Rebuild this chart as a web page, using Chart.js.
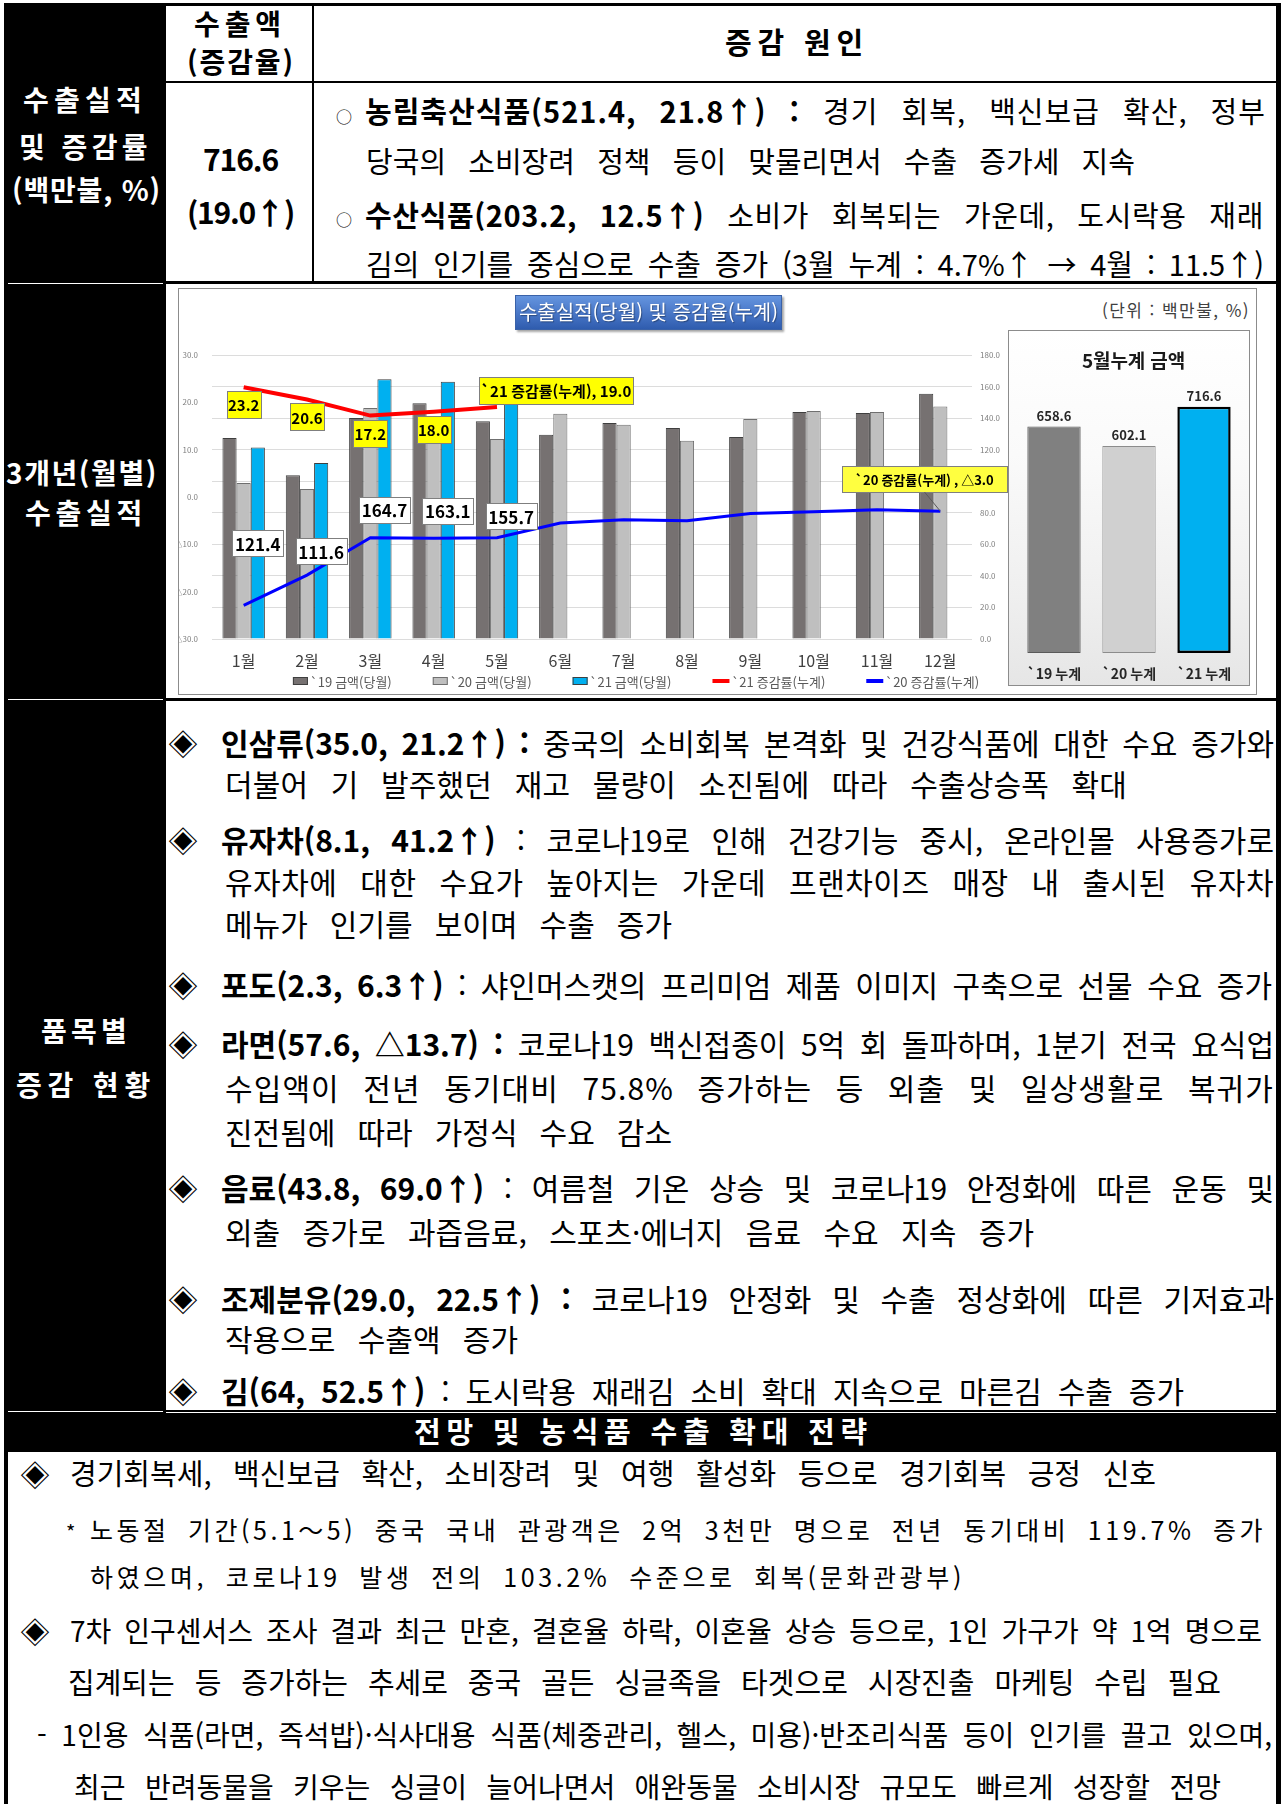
<!DOCTYPE html>
<html lang="ko">
<head>
<meta charset="utf-8">
<title>수출실적 및 증감률</title>
<script src="https://cdn.jsdelivr.net/npm/chart.js@4.4.1/dist/chart.umd.min.js"></script>
<style>
  html, body { margin: 0; padding: 0; background: #fff; }
  #page { position: relative; width: 1285px; height: 1804px; overflow: hidden;
    font-family: 'Noto Sans CJK KR', 'Noto Sans', sans-serif; color: #000; }
  .blk { position: absolute; background: #000; }
  .wl { position: absolute; background: #fff; }
  .t { position: absolute; white-space: nowrap; line-height: 1; }
  .w { color: #fff; font-weight: 700; }
  .bd { font-weight: 700; }
  b { font-weight: 700; }
  #chartBox { position: absolute; left: 178px; top: 288px; width: 1079px; height: 407px;
    border: 1px solid #8c8c8c; box-sizing: border-box; background: #fff; }
  #cumBox { position: absolute; left: 1008px; top: 330px; width: 242px; height: 356px;
    border: 1px solid #8c8c8c; box-sizing: border-box;
    background: linear-gradient(180deg, #fff 0%, #fafafa 35%, #efefef 75%, #e6e6e6 100%); }
  #chartTitle { position: absolute; left: 515px; top: 295px; width: 267px; height: 35px;
    background: linear-gradient(180deg, #6595df 0%, #4a78c8 50%, #2f5cae 100%);
    border: 1px solid #3a62a8; box-sizing: border-box; box-shadow: 2px 2px 2px rgba(0,0,0,0.35);
    color: #fff; font-size: 20px; line-height: 32px; text-align: center; white-space: nowrap;
    overflow: hidden; text-shadow: 1px 1px 1px rgba(0,0,0,0.35); }
  canvas { position: absolute; }
</style>
</head>
<body>
<div id="page">

  <!-- table frame -->
  <div class="blk" style="left:4px;top:3px;width:1277px;height:3px"></div>
  <div class="blk" style="left:4px;top:3px;width:162px;height:1410px"></div>
  <div class="blk" style="left:1276px;top:3px;width:5px;height:1801px"></div>
  <div class="blk" style="left:4px;top:1413px;width:4px;height:391px"></div>
  <div class="blk" style="left:312px;top:6px;width:2px;height:276px"></div>
  <div class="blk" style="left:166px;top:81px;width:1110px;height:2px"></div>
  <div class="blk" style="left:166px;top:281px;width:1110px;height:3px"></div>
  <div class="blk" style="left:166px;top:698px;width:1110px;height:3px"></div>
  <div class="blk" style="left:166px;top:1410px;width:1110px;height:2px"></div>
  <div class="blk" style="left:4px;top:1413px;width:1277px;height:39px"></div>
  <div class="wl" style="left:8px;top:283px;width:155px;height:1px"></div>
  <div class="wl" style="left:8px;top:699px;width:155px;height:1px"></div>
  <div class="wl" style="left:8px;top:1411px;width:155px;height:1px"></div>

  <!-- section 1 -->
  <div class="t w" data-l="23" data-r="147" data-y="101" data-fs="28">수출실적</div>
  <div class="t w" data-l="19" data-r="152" data-y="147.5" data-fs="28">및 증감률</div>
  <div class="t w" data-l="12" data-r="161" data-y="190.5" data-fs="28">(백만불, %)</div>

  <div class="t bd" data-l="194" data-r="286" data-y="25" data-fs="28">수출액</div>
  <div class="t bd" data-l="187" data-r="295" data-y="63" data-fs="28">(증감율)</div>
  <div class="t bd" data-l="203" data-r="278" data-y="160" data-fs="30">716.6</div>
  <div class="t bd" data-l="187" data-r="294" data-y="213" data-fs="30">(19.0↑)</div>
  <div class="t bd" data-l="725" data-r="869" data-y="44" data-fs="29">증감 원인</div>

  <div class="t" data-l="336" data-y="117.5" data-fs="16">○</div>
  <div class="t" data-l="365" data-r="1266" data-y="113" data-fs="29" data-ws="14"><b>농림축산식품(521.4, 21.8↑) :</b> 경기 회복, 백신보급 확산, 정부</div>
  <div class="t" data-l="366" data-r="1135" data-y="162.5" data-fs="29" data-ws="14">당국의 소비장려 정책 등이 맞물리면서 수출 증가세 지속</div>
  <div class="t" data-l="336" data-y="220" data-fs="16">○</div>
  <div class="t" data-l="365" data-r="1264" data-y="216.5" data-fs="29" data-ws="14"><b>수산식품(203.2, 12.5↑)</b> 소비가 회복되는 가운데, 도시락용 재래</div>
  <div class="t" data-l="366" data-r="1264" data-y="265.5" data-fs="29" data-ws="14">김의 인기를 중심으로 수출 증가 (3월 누계 : 4.7%↑ → 4월 : 11.5↑)</div>

  <!-- section 2 -->
  <div class="t w" data-l="6" data-r="158" data-y="474" data-fs="28">3개년(월별)</div>
  <div class="t w" data-l="25" data-r="147" data-y="514" data-fs="28">수출실적</div>

  <div id="chartBox"></div>
  <div id="cumBox"></div>
  <canvas id="mainChart" width="829" height="404" style="left:179px;top:290px"></canvas>
  <canvas id="cumChart" width="240" height="354" style="left:1009px;top:331px"></canvas>
  <div id="chartTitle">수출실적(당월) 및 증감율(누계)</div>
  <div class="t" style="color:#404040" data-l="1102" data-r="1250" data-y="310.5" data-fs="17">(단위 : 백만불, %)</div>
  <div class="t bd" style="color:#1a1a1a" data-l="1082" data-r="1185" data-y="360.5" data-fs="19">5월누계 금액</div>

  <!-- section 3 -->
  <div class="t w" data-l="41" data-r="131" data-y="1032" data-fs="28">품목별</div>
  <div class="t w" data-l="16" data-r="156" data-y="1086" data-fs="28">증감 현황</div>

  <div class="t" data-l="168" data-y="744" data-fs="30">◈</div>
  <div class="t" data-l="221" data-r="1274" data-y="744" data-fs="30" data-ws="14"><b>인삼류(35.0, 21.2↑) :</b> 중국의 소비회복 본격화 및 건강식품에 대한 수요 증가와</div>
  <div class="t" data-l="225" data-r="1127" data-y="785" data-fs="30" data-ws="14">더불어 기 발주했던 재고 물량이 소진됨에 따라 수출상승폭 확대</div>
  <div class="t" data-l="168" data-y="841.5" data-fs="30">◈</div>
  <div class="t" data-l="221" data-r="1274" data-y="841.5" data-fs="30" data-ws="14"><b>유자차(8.1, 41.2↑)</b> : 코로나19로 인해 건강기능 중시, 온라인몰 사용증가로</div>
  <div class="t" data-l="225" data-r="1274" data-y="883.5" data-fs="30" data-ws="14">유자차에 대한 수요가 높아지는 가운데 프랜차이즈 매장 내 출시된 유자차</div>
  <div class="t" data-l="225" data-r="672" data-y="925.5" data-fs="30" data-ws="14">메뉴가 인기를 보이며 수출 증가</div>
  <div class="t" data-l="168" data-y="986.5" data-fs="30">◈</div>
  <div class="t" data-l="221" data-r="1272" data-y="986.5" data-fs="30" data-ws="14"><b>포도(2.3, 6.3↑)</b> : 샤인머스캣의 프리미엄 제품 이미지 구축으로 선물 수요 증가</div>
  <div class="t" data-l="168" data-y="1045.5" data-fs="30">◈</div>
  <div class="t" data-l="221" data-r="1274" data-y="1045.5" data-fs="30" data-ws="14"><b>라면(57.6, △13.7) :</b> 코로나19 백신접종이 5억 회 돌파하며, 1분기 전국 요식업</div>
  <div class="t" data-l="225" data-r="1274" data-y="1089.5" data-fs="30" data-ws="14">수입액이 전년 동기대비 75.8% 증가하는 등 외출 및 일상생활로 복귀가</div>
  <div class="t" data-l="225" data-r="672" data-y="1133" data-fs="30" data-ws="14">진전됨에 따라 가정식 수요 감소</div>
  <div class="t" data-l="168" data-y="1189" data-fs="30">◈</div>
  <div class="t" data-l="221" data-r="1274" data-y="1189" data-fs="30" data-ws="14"><b>음료(43.8, 69.0↑)</b> : 여름철 기온 상승 및 코로나19 안정화에 따른 운동 및</div>
  <div class="t" data-l="225" data-r="1034" data-y="1233" data-fs="30" data-ws="14">외출 증가로 과즙음료, 스포츠·에너지 음료 수요 지속 증가</div>
  <div class="t" data-l="168" data-y="1300" data-fs="30">◈</div>
  <div class="t" data-l="221" data-r="1274" data-y="1300" data-fs="30" data-ws="14"><b>조제분유(29.0, 22.5↑) :</b> 코로나19 안정화 및 수출 정상화에 따른 기저효과</div>
  <div class="t" data-l="225" data-r="518" data-y="1340" data-fs="30" data-ws="14">작용으로 수출액 증가</div>
  <div class="t" data-l="168" data-y="1392" data-fs="30">◈</div>
  <div class="t" data-l="221" data-r="1184" data-y="1392" data-fs="30" data-ws="14"><b>김(64, 52.5↑)</b> : 도시락용 재래김 소비 확대 지속으로 마른김 수출 증가</div>

  <!-- section 4 -->
  <div class="t w" data-l="414" data-r="873" data-y="1433" data-fs="29">전망 및 농식품 수출 확대 전략</div>

  <div class="t" data-l="20" data-y="1475" data-fs="30">◈</div>
  <div class="t" data-l="70" data-r="1156" data-y="1475" data-fs="29" data-ws="14">경기회복세, 백신보급 확산, 소비장려 및 여행 활성화 등으로 경기회복 긍정 신호</div>
  <div class="t" data-l="66" data-y="1533" data-fs="20">*</div>
  <div class="t" data-l="90" data-r="1266" data-y="1531" data-fs="25" data-ws="8">노동절 기간(5.1～5) 중국 국내 관광객은 2억 3천만 명으로 전년 동기대비 119.7% 증가</div>
  <div class="t" data-l="90" data-r="965" data-y="1578" data-fs="25" data-ws="8">하였으며, 코로나19 발생 전의 103.2% 수준으로 회복(문화관광부)</div>
  <div class="t" data-l="20" data-y="1632" data-fs="30">◈</div>
  <div class="t" data-l="70" data-r="1262" data-y="1632" data-fs="28" data-ws="14">7차 인구센서스 조사 결과 최근 만혼, 결혼율 하락, 이혼율 상승 등으로, 1인 가구가 약 1억 명으로</div>
  <div class="t" data-l="68" data-r="1221" data-y="1683.5" data-fs="29" data-ws="14">집계되는 등 증가하는 추세로 중국 골든 싱글족을 타겟으로 시장진출 마케팅 수립 필요</div>
  <div class="t" data-l="37" data-r="1272" data-y="1736" data-fs="28" data-ws="14">- 1인용 식품(라면, 즉석밥)·식사대용 식품(체중관리, 헬스, 미용)·반조리식품 등이 인기를 끌고 있으며,</div>
  <div class="t" data-l="74" data-r="1221" data-y="1788" data-fs="28" data-ws="14">최근 반려동물을 키우는 싱글이 늘어나면서 애완동물 소비시장 규모도 빠르게 성장할 전망</div>
</div>

<script>
// monthly export amounts (million USD) and cumulative growth rates (%)
const months = ['1월', '2월', '3월', '4월', '5월', '6월', '7월', '8월', '9월', '10월', '11월', '12월']
const amt19 = [127.4, 103.8, 140.0, 149.4, 138.0, 129.4, 136.9, 133.7, 128.0, 143.8, 143.2, 155.5]
const amt20 = [98.8, 95.0, 146.4, 135.2, 126.7, 142.8, 135.8, 125.6, 139.4, 144.5, 143.8, 147.4]
const amt21 = [121.4, 111.6, 164.7, 163.1, 155.7, null, null, null, null, null, null, null]
const rate21 = [23.2, 20.6, 17.2, 18.0, 19.0, null, null, null, null, null, null, null]
const rate20 = [-22.9, -16.5, -8.6, -8.7, -8.6, -5.5, -4.8, -5.0, -3.5, -3.1, -2.7, -3.0]

// cumulative Jan-May totals
const cumLabels = ['`19 누계', '`20 누계', '`21 누계']
const cumValues = [658.6, 602.1, 716.6]

// where the '21 amount boxes sit, in right-axis units
const amtLabelAt = [60.6, 55.7, 82.0, 81.4, 77.9]

const FONT = "'Noto Sans CJK KR', 'Noto Sans', sans-serif"

// place the text lines; stretch each one to its width, word gaps first
document.querySelectorAll('.t').forEach(el => {
  const fs = +el.dataset.fs
  el.style.fontSize = fs + 'px'
  el.style.left = el.dataset.l + 'px'
  el.style.top = (+el.dataset.y - 0.57 * fs) + 'px'
  if (!el.dataset.r) return
  const target = +el.dataset.r - +el.dataset.l
  el.style.letterSpacing = '0px'
  el.style.wordSpacing = '0px'
  const w = el.getBoundingClientRect().width
  const text = el.textContent
  const n = [...text].length
  const spaces = (text.match(/ /g) || []).length
  const maxWs = +(el.dataset.ws || 0)
  let ws = 0
  let ls = 0
  if (spaces > 0 && maxWs > 0) {
    ws = (target - w) / spaces
    if (ws > maxWs) {
      ws = maxWs
      ls = (target - w - ws * spaces) / n
    } else if (ws < 1) {
      ws = 1
      ls = (target - w - spaces) / n
    }
  } else {
    ls = (target - w) / n
  }
  el.style.wordSpacing = ws + 'px'
  el.style.letterSpacing = ls + 'px'
})

function fmtRate(v) {
  return v < 0 ? '△' + Math.abs(v).toFixed(1) : v.toFixed(1)
}

function drawBox(ctx, text, cx, cy, st) {
  ctx.save()
  ctx.font = st.font
  const w = Math.round(ctx.measureText(text).width + st.pad * 2)
  const h = st.h
  const x = Math.round(cx - w / 2)
  const y = Math.round(cy - h / 2)
  ctx.fillStyle = st.fill
  ctx.fillRect(x, y, w, h)
  ctx.strokeStyle = st.stroke
  ctx.lineWidth = 1
  ctx.strokeRect(x + 0.5, y + 0.5, w, h)
  ctx.fillStyle = '#000'
  ctx.textAlign = 'center'
  ctx.textBaseline = 'middle'
  ctx.fillText(text, cx, cy + 1)
  ctx.restore()
  return { x, y, w, h }
}

const boxLabels = {
  id: 'boxLabels',
  afterDatasetsDraw(chart) {
    const ctx = chart.ctx
    const y1 = chart.scales.y1
    const yellow = { font: 'bold 15px ' + FONT, pad: 1.5, h: 27, fill: '#ffff00', stroke: '#7f7f7f' }

    // '21 monthly amounts in white boxes over the blue bars
    const blueBars = chart.getDatasetMeta(2).data
    amt21.forEach((v, i) => {
      if (v == null) return
      drawBox(ctx, v.toFixed(1), blueBars[i].x, y1.getPixelForValue(amtLabelAt[i]),
        { font: 'bold 17px ' + FONT, pad: 2.5, h: 26, fill: '#fff', stroke: '#7f7f7f' })
    })

    // '21 cumulative rate: values under the line, series name at the last point
    const redDs = chart.data.datasets[3]
    const redPts = chart.getDatasetMeta(3).data
    let last21 = -1
    rate21.forEach((v, i) => { if (v != null) last21 = i })
    rate21.forEach((v, i) => {
      if (v == null) return
      const p = redPts[i]
      if (i === last21) drawBox(ctx, redDs.label + ', ' + fmtRate(v), p.x + 59, p.y - 17, yellow)
      else drawBox(ctx, fmtRate(v), p.x, p.y + 17.5, yellow)
    })

    // '20 cumulative rate: callout for the last point
    const blueDs = chart.data.datasets[4]
    const bluePts = chart.getDatasetMeta(4).data
    const li = rate20.length - 1
    const p = bluePts[li]
    const b = drawBox(ctx, blueDs.label + ' , ' + fmtRate(rate20[li]), p.x - 16, p.y - 32.5,
      { font: 'bold 13px ' + FONT, pad: 13, h: 26, fill: '#ffff40', stroke: '#7f7f7f' })
    ctx.save()
    ctx.strokeStyle = '#595959'
    ctx.lineWidth = 1
    ctx.beginPath()
    ctx.moveTo(b.x + b.w / 2, b.y + b.h)
    ctx.lineTo(p.x, p.y)
    ctx.stroke()
    ctx.restore()
  }
}

const sheetLegend = {
  id: 'sheetLegend',
  afterDraw(chart) {
    const ctx = chart.ctx
    const area = chart.chartArea
    const y = area.bottom + 42
    ctx.save()
    ctx.font = '13px ' + FONT
    const items = chart.data.datasets.map(ds => ({
      ds,
      mark: ds.type === 'line' ? 17 : 15,
      tw: ctx.measureText(ds.label).width
    }))
    const gap = 41
    const total = items.reduce((s, it) => s + it.mark + 2 + it.tw, 0) + gap * (items.length - 1)
    let x = (area.left + area.right) / 2 + 44 - total / 2
    items.forEach(it => {
      if (it.ds.type === 'line') {
        ctx.strokeStyle = it.ds.borderColor
        ctx.lineWidth = 4
        ctx.beginPath()
        ctx.moveTo(x, y)
        ctx.lineTo(x + it.mark, y)
        ctx.stroke()
      } else {
        ctx.fillStyle = it.ds.backgroundColor
        ctx.fillRect(x, y - 4, it.mark, 8)
        ctx.strokeStyle = it.ds.borderColor
        ctx.lineWidth = 1
        ctx.strokeRect(x + 0.5, y - 3.5, it.mark - 1, 7)
      }
      x += it.mark + 2
      ctx.fillStyle = '#595959'
      ctx.textAlign = 'left'
      ctx.textBaseline = 'middle'
      ctx.fillText(it.ds.label, x, y + 1)
      x += it.tw + gap
    })
    ctx.restore()
  }
}

Chart.defaults.font.family = FONT

new Chart(document.getElementById('mainChart'), {
  type: 'bar',
  data: {
    labels: months,
    datasets: [
      { label: '`19 금액(당월)', data: amt19, yAxisID: 'y1', backgroundColor: '#767171', borderColor: '#3f3f3f', borderWidth: 1, order: 2 },
      { label: '`20 금액(당월)', data: amt20, yAxisID: 'y1', backgroundColor: '#bfbfbf', borderColor: '#6f6f6f', borderWidth: 1, order: 2 },
      { label: '`21 금액(당월)', data: amt21, yAxisID: 'y1', backgroundColor: '#00b0f0', borderColor: '#3f3f3f', borderWidth: 1, order: 2 },
      { type: 'line', label: '`21 증감률(누계)', data: rate21, yAxisID: 'y', borderColor: '#ff0000', backgroundColor: '#ff0000', borderWidth: 4, pointRadius: 0, tension: 0, order: 1 },
      { type: 'line', label: '`20 증감률(누계)', data: rate20, yAxisID: 'y', borderColor: '#0000ff', backgroundColor: '#0000ff', borderWidth: 3, pointRadius: 0, tension: 0, order: 1 }
    ]
  },
  options: {
    responsive: false,
    animation: false,
    layout: { padding: { top: 65, bottom: 21, left: 0, right: 0 } },
    datasets: { bar: { categoryPercentage: 0.67, barPercentage: 1 } },
    plugins: { legend: { display: false }, tooltip: { enabled: false } },
    scales: {
      x: {
        grid: { display: false, drawTicks: false },
        border: { display: false },
        ticks: { padding: 12, color: '#404040', font: { size: 16 } },
        afterFit: s => { s.height = 34 }
      },
      y: {
        position: 'left', min: -30, max: 30,
        ticks: { stepSize: 10, callback: v => fmtRate(v), color: '#7f7f7f', font: { size: 8 }, padding: 6 },
        grid: { display: false },
        border: { display: false },
        afterFit: s => { s.width = 33 }
      },
      y1: {
        position: 'right', min: 0, max: 180,
        ticks: { stepSize: 20, callback: v => v.toFixed(1), color: '#7f7f7f', font: { size: 8 }, padding: 8 },
        grid: { color: '#dcdcdc', drawTicks: false },
        border: { display: false },
        afterFit: s => { s.width = 36 }
      }
    }
  },
  plugins: [boxLabels, sheetLegend]
})

const barValues = {
  id: 'barValues',
  afterDatasetsDraw(chart) {
    const ctx = chart.ctx
    ctx.save()
    ctx.font = 'bold 13px ' + FONT
    ctx.fillStyle = '#262626'
    ctx.textAlign = 'center'
    ctx.textBaseline = 'middle'
    chart.getDatasetMeta(0).data.forEach((bar, i) => {
      ctx.fillText(cumValues[i].toFixed(1), bar.x, bar.y - 10.5)
    })
    ctx.restore()
  }
}

new Chart(document.getElementById('cumChart'), {
  type: 'bar',
  data: {
    labels: cumLabels,
    datasets: [{
      data: cumValues,
      backgroundColor: ['#808080', '#d0d0d0', '#00b0f0'],
      borderColor: ['#5a5a5a', '#8c8c8c', '#000000'],
      borderWidth: [1, 1, 2.5],
      borderSkipped: false,
      barPercentage: 0.711,
      categoryPercentage: 1
    }]
  },
  options: {
    responsive: false,
    animation: false,
    layout: { padding: { top: 47, left: 7.5, right: 7.5, bottom: 0 } },
    plugins: { legend: { display: false }, tooltip: { enabled: false } },
    scales: {
      x: {
        grid: { display: false, drawTicks: false },
        border: { display: false },
        ticks: { padding: 12, color: '#262626', font: { size: 14, weight: 'bold' } },
        afterFit: s => { s.height = 32 }
      },
      y: { display: false, min: 0, max: 800 }
    }
  },
  plugins: [barValues]
})
</script>
</body>
</html>
